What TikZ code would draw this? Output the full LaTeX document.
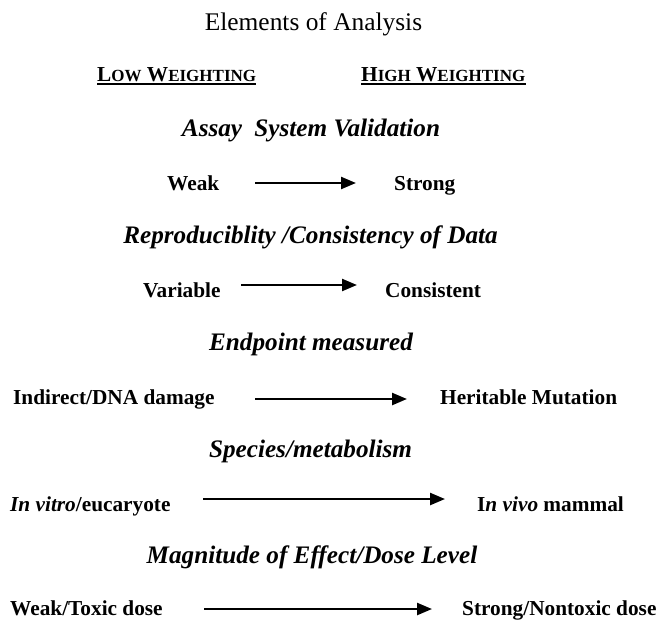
\documentclass[tikz,border=0pt]{standalone}
\usepackage{fontspec}
\setmainfont{Liberation Serif}
\usetikzlibrary{arrows.meta}
\newcommand{\fsc}[2]{#1{\fontsize{17}{17}\selectfont #2}}

\begin{document}
\begin{tikzpicture}[x=1pt,y=-1pt,
    every node/.style={inner sep=0pt,anchor=base west},
    title/.style={anchor=base,font=\fontsize{25.4}{30}\selectfont},
    head/.style={anchor=base,font=\fontsize{25.2}{30}\selectfont\bfseries\itshape},
    item/.style={font=\fontsize{21.3}{26}\selectfont\bfseries},
    arr/.style={line width=2.4pt,-{Triangle[length=15pt,width=12pt]}}]
      \useasboundingbox (0,0) rectangle (660,620);
      \node[title](T) at (313.5,31) {Elements of Analysis};
      \node[item](LW) at (97,81.5) {\fsc{L}{OW} \fsc{W}{EIGHTING}};
      \node[item](HW) at (361,81.5) {\fsc{H}{IGH} \fsc{W}{EIGHTING}};
      \draw[line width=1.3pt]([yshift=-2.5pt]LW.base west)--([yshift=-2.5pt]LW.base east);
      \draw[line width=1.3pt]([yshift=-2.5pt]HW.base west)--([yshift=-2.5pt]HW.base east);
      \node[head](H1) at (311,137) {Assay\hspace{6pt} System Validation};
      \node[item](L1) at (167,190) {Weak};
      \node[item](R1) at (394,190) {Strong};
      \coordinate (A1) at (255,183);
      \coordinate (B1) at (356,183);
      \draw[arr](A1)--(B1);
      \node[head](H2) at (310.5,243) {Reproduciblity /Consistency of Data};
      \node[item](L2) at (143,297) {Variable};
      \node[item](R2) at (385,297) {Consistent};
      \coordinate (A2) at (241,285);
      \coordinate (B2) at (357,285);
      \draw[arr](A2)--(B2);
      \node[head](H3) at (311,350) {Endpoint measured};
      \node[item](L3) at (13,404) {Indirect/DNA damage};
      \node[item](R3) at (440,404) {Heritable Mutation};
      \coordinate (A3) at (255,399);
      \coordinate (B3) at (407,399);
      \draw[arr](A3)--(B3);
      \node[head](H4) at (310.5,457) {Species/metabolism};
      \node[item](L4) at (10,511) {\textit{In vitro}/eucaryote};
      \node[item](R4) at (477,511) {I\textit{n vivo} mammal};
      \coordinate (A4) at (203,499);
      \coordinate (B4) at (445,499);
      \draw[arr](A4)--(B4);
      \node[head](H5) at (312,563) {Magnitude of Effect/Dose Level};
      \node[item](L5) at (10,615) {Weak/Toxic dose};
      \node[item](R5) at (462,615) {Strong/Nontoxic dose};
      \coordinate (A5) at (204,609);
      \coordinate (B5) at (432,609);
      \draw[arr](A5)--(B5);
    \end{tikzpicture}
\end{document}
